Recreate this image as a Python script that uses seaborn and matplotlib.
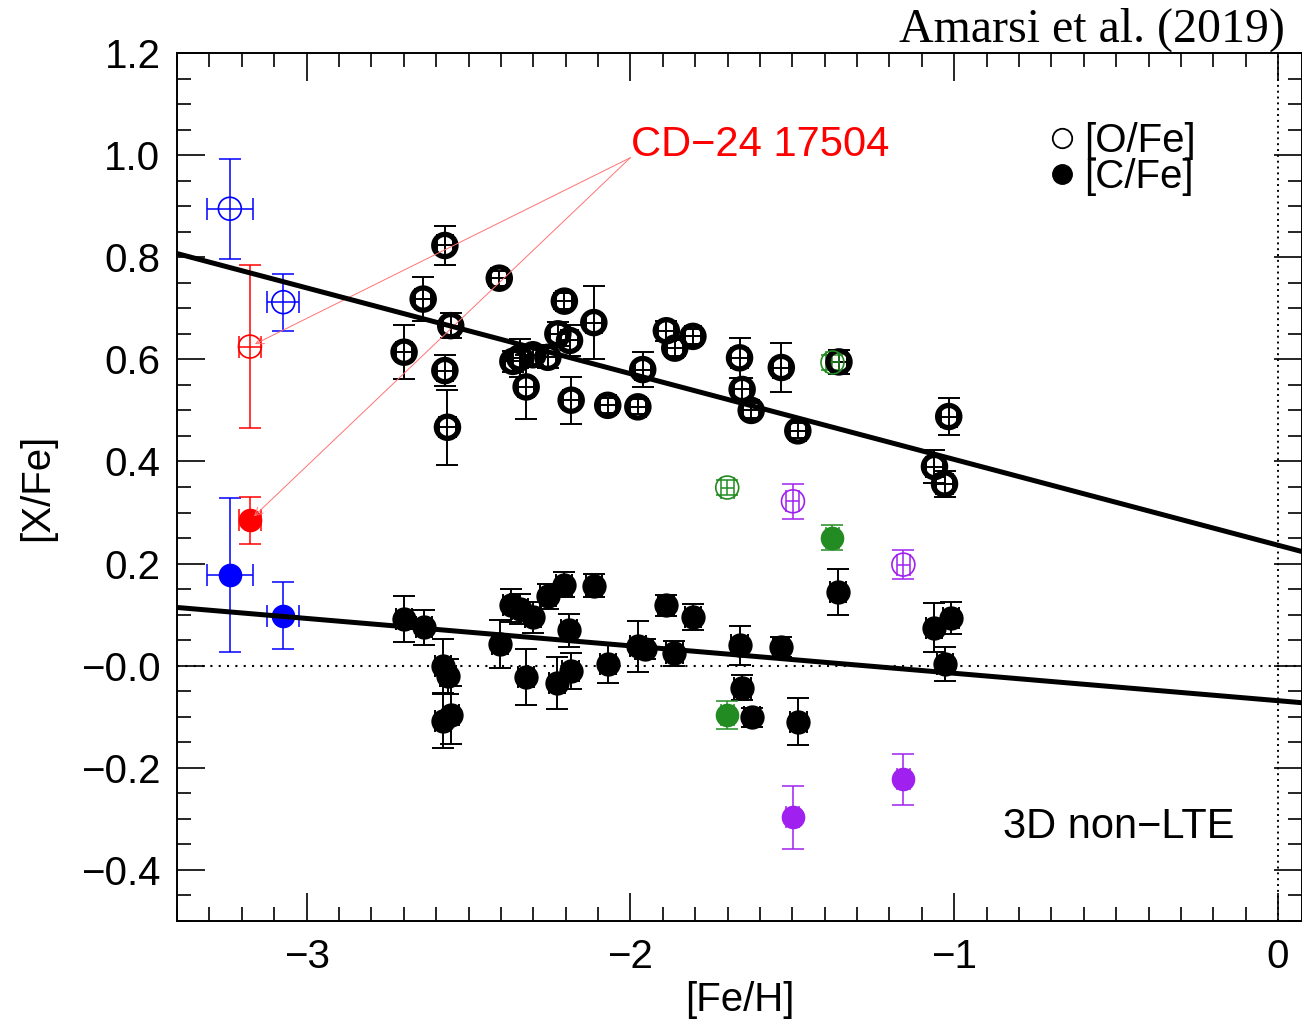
import numpy as np
import pandas as pd
import matplotlib
matplotlib.use("Agg")
import matplotlib.pyplot as plt
import seaborn as sns
from matplotlib.lines import Line2D
from matplotlib.ticker import MultipleLocator, FixedLocator, FixedFormatter

# ---------------- data ----------------
# main sample, [O/Fe] (open circles)
feh_o = [-2.699, -2.640, -2.573, -2.555, -2.573, -2.565, -2.405, -2.363, -2.342, -2.301,
         -2.255, -2.322, -2.224, -2.204, -2.188, -2.183, -2.113, -2.070, -1.977, -1.962,
         -1.889, -1.863, -1.807, -1.663, -1.655, -1.627, -1.534, -1.483, -1.356, -1.061,
         -1.030, -1.017]
ofe = [0.614, 0.718, 0.823, 0.666, 0.578, 0.467, 0.759, 0.596, 0.603, 0.609,
       0.604, 0.546, 0.650, 0.714, 0.637, 0.520, 0.672, 0.510, 0.507, 0.580,
       0.656, 0.622, 0.645, 0.603, 0.541, 0.500, 0.584, 0.460, 0.595, 0.390,
       0.356, 0.488]
ofe_err = [0.053, 0.043, 0.038, 0.025, 0.030, 0.073, 0.015, 0.020, 0.037, 0.020,
           0.020, 0.063, 0.024, 0.015, 0.030, 0.046, 0.072, 0.015, 0.015, 0.034,
           0.020, 0.015, 0.015, 0.039, 0.023, 0.015, 0.048, 0.015, 0.024, 0.032,
           0.025, 0.036]

# main sample, [C/Fe] (filled circles)
feh_c = [-2.699, -2.638, -2.578, -2.563, -2.578, -2.553, -2.402, -2.368, -2.342, -2.301,
         -2.255, -2.204, -2.113, -2.322, -2.190, -2.226, -2.185, -2.070, -1.977, -1.956,
         -1.889, -1.807, -1.864, -1.663, -1.534, -1.654, -1.625, -1.481, -1.358, -1.063,
         -1.009, -1.028]
cfe = [0.092, 0.075, 0.000, -0.021, -0.109, -0.096, 0.043, 0.118, 0.111, 0.095,
       0.136, 0.159, 0.157, -0.022, 0.069, -0.033, -0.011, 0.004, 0.038, 0.033,
       0.118, 0.095, 0.024, 0.040, 0.037, -0.043, -0.101, -0.110, 0.144, 0.074,
       0.093, 0.003]
cfe_err = [0.045, 0.035, 0.053, 0.035, 0.053, 0.057, 0.047, 0.033, 0.030, 0.030,
           0.025, 0.025, 0.023, 0.054, 0.033, 0.051, 0.035, 0.038, 0.050, 0.020,
           0.020, 0.025, 0.025, 0.038, 0.020, 0.024, 0.019, 0.046, 0.045, 0.048,
           0.031, 0.033]
feh_err_main = 0.025

# blue stars
blue_feh = [-3.237, -3.072]
blue_feh_err = [0.072, 0.049]
blue_ofe = [0.895, 0.712]
blue_ofe_err = [0.098, 0.056]
blue_cfe = [0.178, 0.098]
blue_cfe_err = [0.151, 0.065]

# CD-24 17504 (red)
red_feh = [-3.175]
red_feh_err = [0.035]
red_ofe = [0.625]
red_ofe_err = [0.159]
red_cfe = [0.285]
red_cfe_err = [0.046]

# green stars
green_feh = [-1.701, -1.376]
green_feh_err = [0.02, 0.02]
green_ofe = [0.349, 0.594]
green_ofe_err = [0.015, 0.015]
green_cfe = [-0.096, 0.251]
green_cfe_err = [0.027, 0.025]

# purple stars
purple_feh = [-1.498, -1.157]
purple_feh_err = [0.02, 0.02]
purple_ofe = [0.322, 0.198]
purple_ofe_err = [0.034, 0.028]
purple_cfe = [-0.297, -0.222]
purple_cfe_err = [0.062, 0.050]

# linear trends: (intercept at [Fe/H]=0, slope)
fit_o = (0.236, -0.168)
fit_c = (-0.0685, -0.0537)

x_ticks = [-3, -2, -1, 0]
x_tick_labels = ["\u22123", "\u22122", "\u22121", "0"]
y_ticks = [-0.4, -0.2, 0.0, 0.2, 0.4, 0.6, 0.8, 1.0, 1.2]
y_tick_labels = ["\u22120.4", "\u22120.2", "\u22120.0", "0.2", "0.4", "0.6", "0.8", "1.0", "1.2"]
xlim = (-3.40, 0.074)
ylim = (-0.5, 1.2)

# ---------------- style ----------------
sns.set_theme(style="ticks")
plt.rcParams["font.family"] = ["Liberation Sans", "DejaVu Sans"]
plt.rcParams["axes.linewidth"] = 1.4
for key in ["text.color", "axes.labelcolor", "xtick.color", "ytick.color", "axes.edgecolor"]:
    plt.rcParams[key] = "black"

fig = plt.figure(figsize=(13.02, 10.27), dpi=100)
ax = fig.add_axes([0.136, 0.1032, 0.864, 0.8452])

FS = 29

def errs(x, y, xe, ye, color, lw=1.4):
    ax.errorbar(x, y, xerr=xe, yerr=ye, fmt="none", ecolor=color,
                elinewidth=lw, capsize=8, capthick=lw, zorder=2)

# error bars
errs(feh_o, ofe, feh_err_main, ofe_err, "black")
errs(feh_c, cfe, feh_err_main, cfe_err, "black")
errs(blue_feh, blue_ofe, blue_feh_err, blue_ofe_err, "blue", 1.1)
errs(blue_feh, blue_cfe, blue_feh_err, blue_cfe_err, "blue", 1.1)
errs(red_feh, red_ofe, red_feh_err, red_ofe_err, "red", 1.1)
errs(red_feh, red_cfe, red_feh_err, red_cfe_err, "red", 1.1)
errs(green_feh, green_ofe, green_feh_err, green_ofe_err, "forestgreen", 1.1)
errs(green_feh, green_cfe, green_feh_err, green_cfe_err, "forestgreen", 1.1)
errs(purple_feh, purple_ofe, purple_feh_err, purple_ofe_err, "#A020F0", 1.1)
errs(purple_feh, purple_cfe, purple_feh_err, purple_cfe_err, "#A020F0", 1.1)

# markers
sns.scatterplot(x=feh_o, y=ofe, ax=ax, marker="o", s=16 ** 2, facecolor="none",
                edgecolor="black", linewidth=3.8, zorder=3)
sns.scatterplot(x=feh_c, y=cfe, ax=ax, marker="o", s=17.5 ** 2, facecolor="black",
                edgecolor="black", linewidth=0, zorder=3)
for fx, o, c, col in [(blue_feh, blue_ofe, blue_cfe, "blue"),
                      (red_feh, red_ofe, red_cfe, "red"),
                      (green_feh, green_ofe, green_cfe, "forestgreen"),
                      (purple_feh, purple_ofe, purple_cfe, "#A020F0")]:
    sns.scatterplot(x=fx, y=o, ax=ax, marker="o", s=16.5 ** 2, facecolor="none",
                    edgecolor=col, linewidth=1.2, zorder=3)
    sns.scatterplot(x=fx, y=c, ax=ax, marker="o", s=17 ** 2, facecolor=col,
                    edgecolor=col, linewidth=0, zorder=3)

# trend lines
xx = np.array(xlim)
lines = pd.DataFrame({
    "x": np.concatenate([xx, xx]),
    "y": np.concatenate([fit_o[0] + fit_o[1] * xx, fit_c[0] + fit_c[1] * xx]),
    "k": ["O", "O", "C", "C"],
})
for k in ["O", "C"]:
    sub = lines[lines["k"] == k]
    sns.lineplot(data=sub, x="x", y="y", ax=ax, color="black", linewidth=3.6,
                 zorder=4, legend=False)

# reference dotted lines
ax.axhline(0.0, color="black", ls=(0, (1, 3)), lw=1.5, zorder=1)
ax.axvline(0.0, color="black", ls=(0, (1, 2)), lw=1.4, zorder=1)

# annotation for CD-24 17504
txt_xy = (-2.0, 0.995)
ax.text(txt_xy[0] + 0.002, txt_xy[1] + 0.003, "CD\u221224 17504", color="red",
        fontsize=FS + 1, ha="left", va="baseline")
for py in (red_ofe[0], red_cfe[0]):
    ax.annotate("", xy=(red_feh[0], py), xytext=txt_xy,
                arrowprops=dict(arrowstyle="->", color=(1.0, 0.45, 0.45), lw=0.7,
                                shrinkA=0, shrinkB=4, mutation_scale=14))

ax.text(0.940, 0.0956, "3D non\u2212LTE", transform=ax.transAxes, fontsize=FS + 1,
        ha="right", va="baseline", color="black")

# legend
handles = [Line2D([], [], ls="", marker="o", ms=14, mfc="white", mec="black", mew=1.3),
           Line2D([], [], ls="", marker="o", ms=14, mfc="black", mec="black")]
leg = ax.legend(handles, ["[O/Fe]", "[C/Fe]"], loc="upper left",
                bbox_to_anchor=(0.776, 0.92), frameon=False, fontsize=FS,
                handlelength=0.6, handletextpad=0.25, labelspacing=-0.05,
                borderpad=0, borderaxespad=0)

# axes
ax.set_xlim(*xlim)
ax.set_ylim(*ylim)
ax.xaxis.set_major_locator(FixedLocator(x_ticks))
ax.xaxis.set_major_formatter(FixedFormatter(x_tick_labels))
ax.yaxis.set_major_locator(FixedLocator(y_ticks))
ax.yaxis.set_major_formatter(FixedFormatter(y_tick_labels))
ax.xaxis.set_minor_locator(MultipleLocator(0.1))
ax.yaxis.set_minor_locator(MultipleLocator(0.05))
ax.tick_params(which="both", direction="in", top=True, right=True, color="black",
               width=1.2, labelsize=FS)
ax.tick_params(which="major", length=20, pad=12)
ax.tick_params(which="minor", length=10)
for s in ax.spines.values():
    s.set_color("black")
    s.set_linewidth(1.4)

ax.set_xlabel("[Fe/H]", fontsize=FS, labelpad=4)
ax.set_ylabel("[X/Fe]", fontsize=FS, labelpad=18)

fig.text(1285 / 1302, 1 - 42 / 1027, "Amarsi et al. (2019)", ha="right", va="baseline",
         fontsize=34.5, family=["Liberation Serif", "DejaVu Serif"], color="black")

fig.savefig("out.png", dpi=100)
